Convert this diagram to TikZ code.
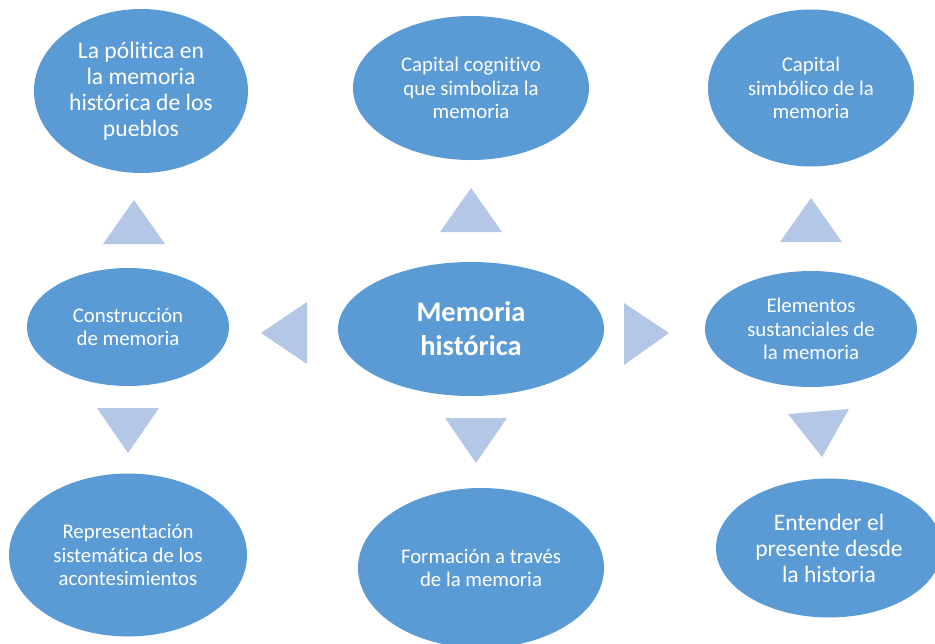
\documentclass[tikz,border=0pt]{standalone}
\usepackage{fontspec}
\setmainfont{Carlito}[Ligatures={NoCommon}]
\usetikzlibrary{shapes.geometric}
\definecolor{ovalblue}{HTML}{5B9BD5}
\definecolor{triblue}{HTML}{B4C7E7}
\begin{document}
\begin{tikzpicture}[x=1pt,y=-1pt,
    oval/.style={ellipse,fill=ovalblue,text=white,inner sep=0pt,align=center,
      font=\fontsize{20.8}{23.5}\selectfont},
    big/.style={font=\fontsize{23.6}{26}\selectfont},
    tri/.style={fill=triblue}]
      \useasboundingbox (0,0) rectangle (935,643);
      \node[oval,big,minimum width=214,minimum height=164] (pol) at (141,91)
        {La pólitica en\\la memoria\\histórica de los\\pueblos};
      \node[oval,minimum width=236,minimum height=144] (cog) at (471,88)
        {Capital cognitivo\\que simboliza la\\memoria};
      \node[oval,minimum width=206,minimum height=157] (sim) at (811,88)
        {Capital\\simbólico de la\\memoria};
      \node[oval,minimum width=202,minimum height=118] (con) at (128,327)
        {Construcción\\de memoria};
      \node[oval,minimum width=266,minimum height=134,
        font=\fontsize{28.5}{34}\selectfont\bfseries] (mh) at (471,329)
        {Memoria\\histórica};
      \node[oval,minimum width=212,minimum height=116] (ele) at (811,329)
        {Elementos\\sustanciales de\\la memoria};
      \node[oval,minimum width=238,minimum height=163] (rep) at (128,555)
        {Representación\\sistemática de los\\acontesimientos};
      \node[oval,minimum width=246,minimum height=160] (for) at (481,568)
        {Formación a través\\de la memoria};
      \node[oval,big,minimum width=226,minimum height=139] (ent) at (829,548)
        {Entender el\\presente desde\\la historia};
      \begin{scope}[tri]
        \fill (103,244) -- (165,244) -- (134,200) -- cycle;
        \fill (440,232) -- (502,232) -- (471,188) -- cycle;
        \fill (780,242) -- (842,242) -- (811,198) -- cycle;
        \fill (307,302) -- (307,364) -- (261,333) -- cycle;
        \fill (624,303) -- (624,365) -- (669,333) -- cycle;
        \fill (97,408) -- (159,408) -- (128,453) -- cycle;
        \fill (445,418) -- (507,418) -- (476,463) -- cycle;
        \fill (788,414) -- (849,409) -- (822,457) -- cycle;
      \end{scope}
    \end{tikzpicture}
\end{document}
